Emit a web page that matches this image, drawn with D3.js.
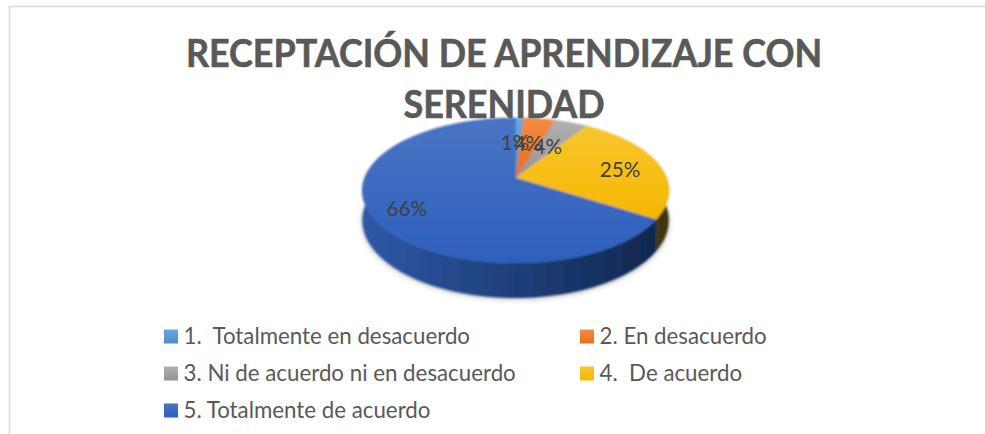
<!DOCTYPE html>
<html><head><meta charset="utf-8">
<script src="https://cdn.jsdelivr.net/npm/d3@7/dist/d3.min.js"></script>
<style>html,body{margin:0;padding:0;background:#fff}svg{display:block}text{font-family:Lato,sans-serif}</style>
</head><body><svg id="c" width="985" height="434"></svg>
<script>
const titleLines = ["RECEPTACIÓN DE APRENDIZAJE CON", "SERENIDAD"];
const categories = ["1.  Totalmente en desacuerdo", "2. En desacuerdo", "3. Ni de acuerdo ni en desacuerdo", "4.  De acuerdo", "5. Totalmente de acuerdo"];
const values = [1, 4, 4, 25, 66];
const labels = ["1%", "4%", "4%", "25%", "66%"];
const topLight = ["#6aa8e0", "#f48a42", "#b0b0b0", "#f8c62e", "#4a74c4"];
const topDark = ["#4a8ccb", "#e56f1e", "#949494", "#f5b800", "#2e5fbe"];
const wallLight = ["#2f6390", "#8f4a14", "#666666", "#7a5d05", "#2f58a6"];
const wallDark = ["#2f6390", "#8f4a14", "#666666", "#3c3210", "#102750"];

const svg = d3.select("#c");
const defs = svg.append("defs");
const cx = 515.5, cy = 178, R = 151, Ry = 70.4, k = 0.172, depth = 29;

// Perspective projection of a point on the tilted pie disc
function project(theta, f) {
  const u = Math.sin(theta) * f, v = Math.cos(theta) * f, w = 1 / (1 + k * v);
  return { x: cx + R * u * w, y: cy - Ry * v * w, w };
}

const blur = defs.append("filter").attr("id", "soft").attr("x", "-5%").attr("y", "-5%").attr("width", "110%").attr("height", "110%");
blur.append("feGaussianBlur").attr("stdDeviation", 1);
const shadow = defs.append("filter").attr("id", "shadow").attr("x", "-10%").attr("y", "-10%").attr("width", "120%").attr("height", "130%");
shadow.append("feGaussianBlur").attr("stdDeviation", 2.5);

function gradient(id, c1, c2, horizontal) {
  const g = defs.append("linearGradient").attr("id", id).attr("x1", 0).attr("y1", 0)
    .attr("x2", horizontal ? 1 : 0).attr("y2", horizontal ? 0 : 1);
  g.append("stop").attr("offset", 0).attr("stop-color", c1);
  g.append("stop").attr("offset", 1).attr("stop-color", c2);
}
categories.forEach((_, i) => {
  gradient("top" + i, topLight[i], topDark[i], false);
  gradient("wall" + i, wallLight[i], wallDark[i], true);
});

// Frame
const frame = d3.path();
frame.moveTo(9.5, 434); frame.lineTo(9.5, 6.5); frame.lineTo(985, 6.5);
svg.append("path").attr("d", frame.toString()).attr("fill", "none").attr("stroke", "#d9d9d9").attr("stroke-width", 1.6);

const arcs = d3.pie().sort(null).value(d => d)(values);
const line = d3.line().x(d => d.x).y(d => d.y);
const sample = a => d3.range(0, 61).map(i => a.startAngle + (a.endAngle - a.startAngle) * i / 60);

const pie = svg.append("g").attr("filter", "url(#soft)");

// Soft shadow under the drum
const all = d3.range(0, 181).map(i => i / 180 * 2 * Math.PI);
pie.append("path")
  .attr("d", line(all.map(t => { const p = project(t, 1); return { x: p.x, y: p.y + depth * p.w + 1 }; })) + "Z")
  .attr("fill", "#555").attr("opacity", 0.45).attr("filter", "url(#shadow)");

// Side walls
arcs.forEach((a, i) => {
  const s = sample(a).map(t => project(t, 1));
  const low = s.map(p => ({ x: p.x, y: p.y + depth * p.w })).reverse();
  pie.append("path").attr("d", line(s.concat(low)) + "Z").attr("fill", "url(#wall" + i + ")");
});

// Top faces
arcs.forEach((a, i) => {
  const rim = sample(a).map(t => project(t, 1));
  pie.append("path").attr("d", line([{ x: cx, y: cy }].concat(rim)) + "Z")
    .attr("fill", "url(#top" + i + ")").attr("stroke", "url(#top" + i + ")").attr("stroke-width", 0.5);
});

// Data labels
arcs.forEach((a, i) => {
  const mid = (a.startAngle + a.endAngle) / 2;
  const p = project(mid, a.value < 10 ? 0.6 : 0.75);
  svg.append("text").attr("transform", `translate(${p.x - 3},${p.y + 5}) scale(0.94,1)`).attr("text-anchor", "middle").attr("dominant-baseline", "middle")
    .attr("font-size", 22).attr("fill", "#404040").text(labels[i]);
});

// Title
const titleY = d3.scalePoint().domain(titleLines).range([67, 118]);
svg.selectAll(".title").data(titleLines).join("text").attr("class", "title")
  .attr("transform", d => `translate(504,${titleY(d)}) scale(0.933,1)`).attr("text-anchor", "middle")
  .attr("font-size", 38.5).attr("font-weight", 700).attr("fill", "#595959")
  .attr("stroke", "#595959").attr("stroke-width", 0.6).text(d => d);

// Legend
const legendX = d3.scalePoint().domain([0, 1]).range([164, 580]);
const legendY = d3.scalePoint().domain([0, 1, 2]).range([329.5, 403.5]);
const items = svg.selectAll(".lg").data(categories).join("g").attr("class", "lg")
  .attr("transform", (d, i) => `translate(${legendX(i % 2)},${legendY(Math.floor(i / 2))})`);
items.append("rect").attr("width", 14).attr("height", 14).attr("fill", (d, i) => `url(#top${i})`);
items.append("text").attr("transform", "translate(19.5,14) scale(0.97,1)").attr("font-size", 23).attr("fill", "#595959")
  .attr("xml:space", "preserve").style("white-space", "pre").text(d => d);
</script></body></html>
